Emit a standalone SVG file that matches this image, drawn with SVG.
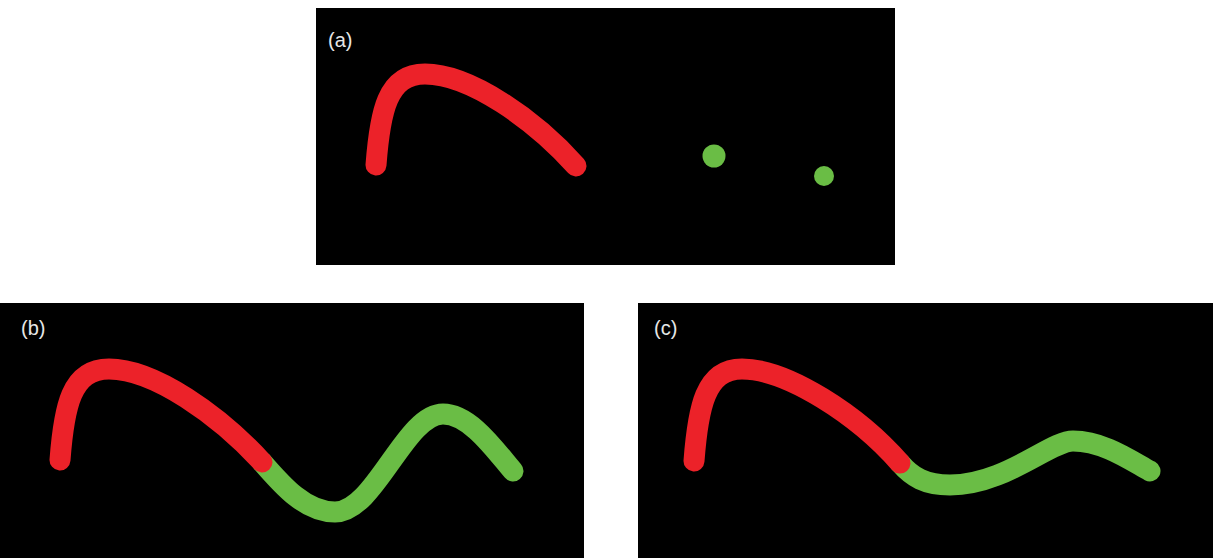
<svg xmlns="http://www.w3.org/2000/svg" width="1213" height="558" viewBox="0 0 1213 558">
<style>
.panel{fill:#000}
.lbl{font-family:"Liberation Sans",Arial,sans-serif;font-size:20px;fill:#e6e6e6}
.red{fill:none;stroke:#ec2229;stroke-width:21;stroke-linecap:round}
.green{fill:none;stroke:#6abd45;stroke-width:21;stroke-linecap:round}
.dot{fill:#6abd45}
</style>
<rect width="1213" height="558" fill="#fff"/>
<g id="panel-a">
<rect class="panel" x="316" y="8" width="579" height="257"/>
<text class="lbl" x="328" y="47">(a)</text>
<path class="red" d="M376,165 C380,112 387,74 425,74 C470,74 535,120 576,166"/>
<circle class="dot" cx="714" cy="156" r="11.5"/>
<circle class="dot" cx="824" cy="176" r="10"/>
</g>
<g id="panel-b">
<rect class="panel" x="0" y="303" width="584" height="255"/>
<text class="lbl" x="21" y="335">(b)</text>
<path class="green" d="M262,462 C282,485 305,512 335,512 C375,512 405,414 443,414 C470,414 495,450 513,471"/>
<path class="red" d="M60,460 C64,407 71,369 109,369 C154,369 219,415 262,462"/>
</g>
<g id="panel-c">
<rect class="panel" x="638" y="303" width="575" height="255"/>
<text class="lbl" x="654" y="335">(c)</text>
<path class="green" d="M900,463 C912,477 925,485 950,485 C1005,485 1050,441 1073,441 C1103,441 1130,460 1150,471"/>
<path class="red" d="M694,461 C698,408 705,369 742,369 C787,369 858,415 900,463"/>
</g>
</svg>
